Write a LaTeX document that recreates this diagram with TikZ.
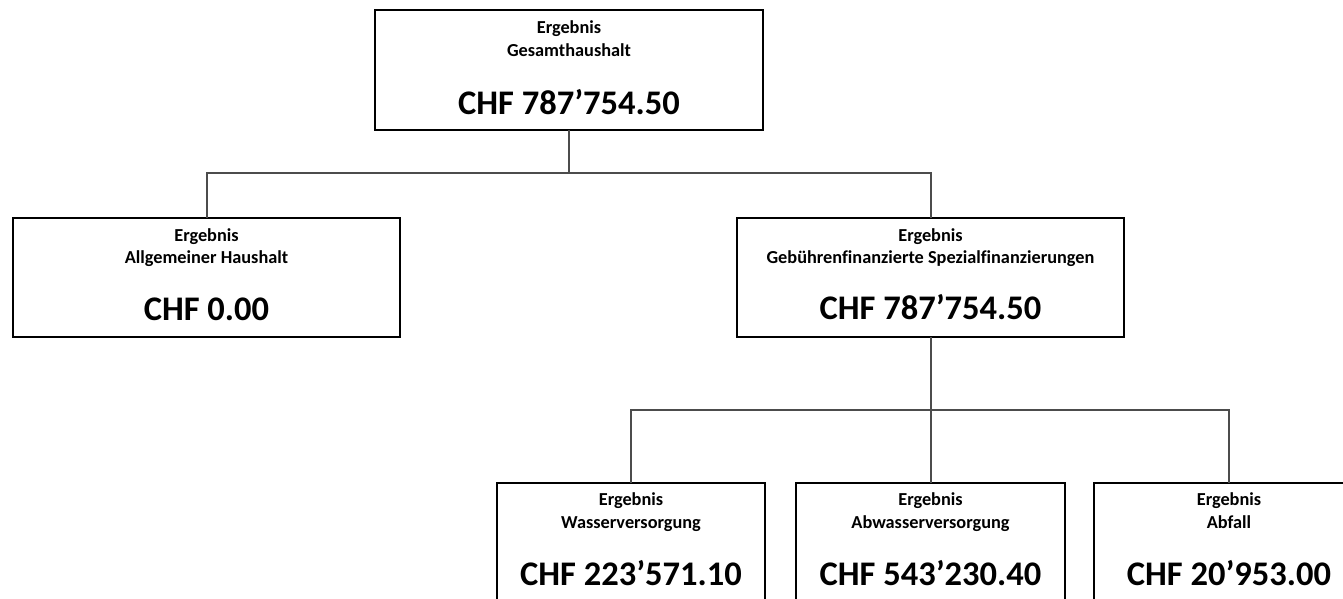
\documentclass[tikz,border=0pt]{standalone}
\usepackage{fontspec}
\setmainfont{Carlito}[Ligatures=NoCommon]
\tikzset{
  box/.style={draw=black, line width=1.4pt, fill=white, inner sep=0pt, outer sep=0pt},
  small/.style={font=\bfseries\fontsize{18.3}{22}\selectfont, anchor=base, inner sep=0pt},
  big/.style={font=\bfseries\fontsize{34.5}{40}\selectfont, anchor=base, inner sep=0pt},
  conn/.style={draw=black!70, line width=2pt}
}
\begin{document}
\begin{tikzpicture}[x=1pt,y=-1pt]
\useasboundingbox (0,0) rectangle (1343,599);
\begin{scope}
\clip (0,0) rectangle (1343,599);
% boxes
\node[box, minimum width=388pt, minimum height=120pt] (top) at (569,70) {};
\node[box, minimum width=387pt, minimum height=119pt] (left) at (206.5,277.5) {};
\node[box, minimum width=387pt, minimum height=119pt] (right) at (930.5,277.5) {};
\node[box, minimum width=268pt, minimum height=130pt] (b1) at (631,548) {};
\node[box, minimum width=269pt, minimum height=130pt] (b2) at (930.5,548) {};
\node[box, minimum width=270pt, minimum height=130pt] (b3) at (1229,548) {};
% junctions
\coordinate (j1) at (569,173);
\coordinate (j2) at (930.5,410);
% connectors
\draw[conn] (top.south) -- (j1);
\draw[conn] (left.north) |- (j1) -| (right.north);
\draw[conn] (right.south) -- (j2);
\draw[conn] (b1.north) |- (j2) -| (b3.north);
\draw[conn] (j2) -- (b2.north);
% texts
\node[small] (t1) at ([yshift=-24pt]top.north) {Ergebnis};
\node[small] (t2) at ([yshift=-47pt]top.north) {Gesamthaushalt};
\node[big] (t3) at ([yshift=-105pt]top.north) {CHF 787’754.50};
\node[small] (l1) at ([yshift=-23pt]left.north) {Ergebnis};
\node[small] (l2) at ([yshift=-45pt]left.north) {Allgemeiner Haushalt};
\node[big] (l3) at ([yshift=-102pt]left.north) {CHF 0.00};
\node[small] (r1) at ([yshift=-23pt]right.north) {Ergebnis};
\node[small] (r2) at ([yshift=-45pt]right.north) {Gebührenfinanzierte Spezialfinanzierungen};
\node[big] (r3) at ([yshift=-101pt]right.north) {CHF 787’754.50};
\node[small] (a1) at ([yshift=-22pt]b1.north) {Ergebnis};
\node[small] (a2) at ([yshift=-45pt]b1.north) {Wasserversorgung};
\node[big] (a3) at ([yshift=-102pt]b1.north) {CHF 223’571.10};
\node[small] (c1) at ([yshift=-22pt]b2.north) {Ergebnis};
\node[small] (c2) at ([yshift=-45pt]b2.north) {Abwasserversorgung};
\node[big] (c3) at ([yshift=-102pt]b2.north) {CHF 543’230.40};
\node[small] (d1) at ([yshift=-22pt]b3.north) {Ergebnis};
\node[small] (d2) at ([yshift=-45pt]b3.north) {Abfall};
\node[big] (d3) at ([yshift=-102pt]b3.north) {CHF 20’953.00};
\end{scope}
\end{tikzpicture}
\end{document}
